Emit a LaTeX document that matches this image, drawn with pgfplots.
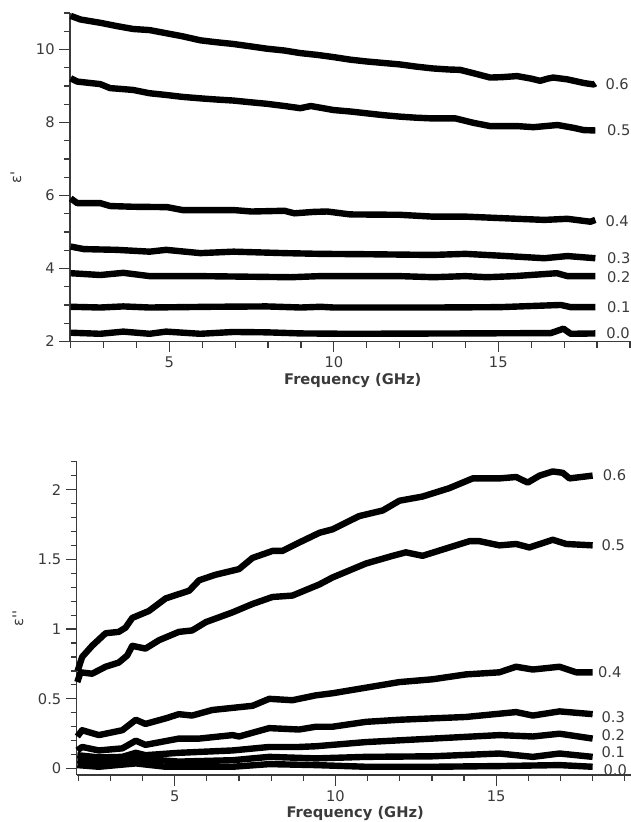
\documentclass[border=0pt]{standalone}
\usepackage{pgfplots}
\pgfplotsset{compat=1.18}
\usepackage{fontspec}
\setmainfont{DejaVu Sans}
\definecolor{txt}{HTML}{3A3A3A}
\pgfplotsset{
  myax/.style={
    scale only axis,
    axis lines*=left,
    axis line style={txt, line width=0.9pt},
    tick align=outside,
    major tick length=8pt,
    minor tick length=4.6pt,
    tick style={txt, line width=0.9pt},
    tick label style={font=\fontsize{11}{13}\selectfont, text=txt},
    /pgf/number format/assume math mode=true,
    xlabel={Frequency (GHz)},
    xlabel style={font=\bfseries\fontsize{11}{13}\selectfont, text=txt, anchor=center, yshift=-29pt},
    ylabel style={font=\fontsize{11}{13}\selectfont, text=txt, at={(axis description cs:0,0.5)}, anchor=center},
    clip=false,
    cycle list={black\\},
    every axis plot/.append style={black, solid, line width=4.8pt, line join=round, no markers},
  },
}
\tikzset{lab/.style={anchor=west, inner sep=0pt, font=\fontsize{11}{13}\selectfont, text=txt}}
\begin{document}
\begin{tikzpicture}
\begin{scope}
\clip (0,0) rectangle (473.25pt,616.5pt);
% ---------------- top: eps' ----------------
\begin{axis}[myax,
  at={(52.5pt,360.4pt)}, anchor=south west,
  width=444.6pt, height=246.4pt,
  xmin=1.98, xmax=20, ymin=2, ymax=11,
  xtick={5,10,15},
  minor xtick={2,3,4,6,7,8,9,11,12,13,14,16,17,18,19},
  ytick={2,4,6,8,10},
  minor ytick={2.5,3,3.5,4.5,5,5.5,6.5,7,7.5,8.5,9,9.5,10.5,11},
  ylabel={ε\textquotesingle},
  ylabel style={yshift=40.5pt},
  xlabel style={at={(axis description cs:0.477,0)}},
]
\addplot coordinates {(2.0,10.92) (2.3,10.82) (2.9,10.73) (3.4,10.64) (3.9,10.56) (4.4,10.53) (4.93,10.44) (5.4,10.36) (5.94,10.25) (6.4,10.2) (6.94,10.15) (7.5,10.08) (7.97,10.02) (8.5,9.97) (8.98,9.9) (9.5,9.85) (9.99,9.79) (10.5,9.72) (11.0,9.67) (11.5,9.63) (12.0,9.59) (12.5,9.53) (13.0,9.48) (13.5,9.45) (13.84,9.44) (14.24,9.35) (14.75,9.23) (15.1,9.24) (15.57,9.27) (16.0,9.2) (16.27,9.14) (16.5,9.2) (16.67,9.23) (17.1,9.18) (17.6,9.08) (17.9,9.04) (17.95,9.07)};
\addplot coordinates {(2.0,9.21) (2.2,9.12) (2.9,9.05) (3.2,8.94) (3.5,8.92) (3.9,8.89) (4.4,8.8) (4.93,8.75) (5.4,8.7) (5.94,8.66) (6.4,8.63) (6.94,8.6) (7.5,8.55) (7.97,8.51) (8.5,8.45) (8.98,8.39) (9.3,8.45) (9.99,8.34) (10.5,8.3) (11.0,8.25) (11.5,8.2) (12.0,8.16) (12.5,8.13) (13.0,8.11) (13.7,8.11) (14.24,7.99) (14.75,7.9) (15.57,7.9) (16.07,7.87) (16.8,7.93) (17.3,7.85) (17.6,7.79) (17.95,7.78)};
\addplot coordinates {(2.0,5.92) (2.2,5.79) (2.9,5.79) (3.2,5.71) (3.9,5.69) (4.93,5.68) (5.4,5.6) (6.95,5.6) (7.5,5.56) (8.5,5.58) (8.8,5.51) (9.4,5.55) (9.8,5.56) (10.5,5.48) (12.0,5.47) (13.0,5.42) (14.0,5.42) (15.05,5.38) (16.4,5.33) (17.1,5.36) (17.8,5.28) (17.95,5.33)};
\addplot coordinates {(2.0,4.6) (2.4,4.53) (3.4,4.51) (4.4,4.46) (4.9,4.51) (5.94,4.42) (6.95,4.46) (8.5,4.42) (9.58,4.4) (11.0,4.39) (13.0,4.37) (14.0,4.4) (15.05,4.35) (16.4,4.28) (17.1,4.34) (17.95,4.28)};
\addplot coordinates {(2.0,3.87) (2.9,3.82) (3.6,3.88) (4.4,3.79) (5.94,3.79) (8.7,3.76) (9.58,3.79) (12.0,3.79) (13.03,3.76) (14.0,3.79) (14.65,3.76) (15.5,3.79) (16.78,3.87) (17.1,3.79) (17.95,3.79)};
\addplot coordinates {(2.0,2.95) (2.9,2.93) (3.6,2.96) (4.4,2.93) (6.3,2.95) (7.96,2.96) (9.0,2.93) (9.6,2.95) (10.0,2.93) (13.0,2.93) (15.05,2.94) (16.9,3.0) (17.2,2.94) (17.95,2.94)};
\addplot coordinates {(2.0,2.24) (2.9,2.21) (3.6,2.27) (4.4,2.21) (4.9,2.27) (5.94,2.21) (6.95,2.26) (7.96,2.25) (9.0,2.22) (10.5,2.21) (14.0,2.22) (16.6,2.23) (16.98,2.35) (17.2,2.21) (17.95,2.22)};
\node[lab] at (axis cs:18.25,9.05) {0.6};
\node[lab] at (axis cs:18.3,7.78) {0.5};
\node[lab] at (axis cs:18.25,5.3) {0.4};
\node[lab] at (axis cs:18.3,4.27) {0.3};
\node[lab] at (axis cs:18.3,3.77) {0.2};
\node[lab] at (axis cs:18.3,2.94) {0.1};
\node[lab] at (axis cs:18.28,2.22) {0.0};
\end{axis}
% ---------------- bottom: eps'' ----------------
\begin{axis}[myax,
  at={(57.5pt,35.25pt)}, anchor=south west,
  width=435.2pt, height=235pt,
  xmin=1.95, xmax=20, ymin=-0.046, ymax=2.2,
  xtick={5,10,15},
  minor xtick={2,3,4,6,7,8,9,11,12,13,14,16,17,18,19},
  ytick={0,0.5,1,1.5,2},
  minor ytick={0.1,0.2,0.3,0.4,0.6,0.7,0.8,0.9,1.1,1.2,1.3,1.4,1.6,1.7,1.8,1.9,2.1,2.2},
  ylabel={ε\textquotesingle\textquotesingle},
  ylabel style={yshift=44pt},
  xlabel style={at={(axis description cs:0.48,0)}},
]
\addplot coordinates {(1.98,0.70) (2.12,0.80) (2.43,0.88) (2.85,0.97) (3.26,0.98) (3.47,1.01) (3.68,1.08) (4.2,1.13) (4.72,1.22) (5.45,1.275) (5.76,1.35) (6.28,1.39) (7.0,1.43) (7.42,1.51) (8.04,1.56) (8.35,1.56) (8.87,1.62) (9.5,1.69) (9.91,1.715) (10.74,1.81) (11.47,1.85) (11.99,1.92) (12.71,1.95) (13.54,2.01) (14.27,2.08) (15.1,2.08) (15.62,2.09) (15.98,2.05) (16.35,2.10) (16.76,2.13) (17.07,2.12) (17.28,2.08) (18.0,2.10)};
\addplot coordinates {(1.97,0.62) (2.07,0.69) (2.43,0.68) (2.85,0.73) (3.26,0.76) (3.52,0.81) (3.68,0.88) (4.09,0.86) (4.51,0.92) (5.13,0.98) (5.54,0.99) (5.97,1.05) (6.8,1.12) (7.42,1.18) (8.04,1.23) (8.66,1.24) (9.5,1.32) (9.91,1.37) (10.95,1.47) (11.78,1.525) (12.19,1.55) (12.71,1.525) (13.54,1.585) (14.17,1.63) (14.48,1.63) (15.1,1.60) (15.62,1.61) (16.03,1.585) (16.76,1.64) (17.18,1.61) (18.0,1.60)};
\addplot coordinates {(1.97,0.23) (2.12,0.275) (2.64,0.24) (3.37,0.275) (3.79,0.35) (4.09,0.32) (4.72,0.36) (5.13,0.39) (5.54,0.38) (6.17,0.42) (7.0,0.44) (7.42,0.45) (7.94,0.50) (8.66,0.49) (9.39,0.525) (9.91,0.54) (10.43,0.56) (10.95,0.58) (11.99,0.62) (13.02,0.64) (14.06,0.675) (15.1,0.69) (15.62,0.73) (16.14,0.71) (16.97,0.73) (17.49,0.69) (18.0,0.69)};
\addplot coordinates {(1.97,0.13) (2.12,0.155) (2.64,0.13) (3.37,0.145) (3.79,0.20) (4.09,0.17) (5.13,0.215) (5.76,0.215) (6.8,0.24) (7.0,0.23) (7.94,0.29) (8.87,0.28) (9.39,0.30) (9.91,0.30) (10.95,0.335) (11.99,0.35) (13.02,0.36) (14.06,0.37) (15.62,0.405) (16.14,0.38) (16.97,0.41) (18.0,0.39)};
\addplot coordinates {(1.97,0.096) (2.64,0.08) (3.37,0.084) (3.79,0.113) (4.09,0.096) (5.13,0.113) (6.8,0.13) (7.94,0.155) (8.87,0.155) (9.39,0.16) (10.95,0.19) (13.02,0.215) (15.1,0.24) (16.14,0.23) (16.97,0.25) (18.0,0.215)};
\addplot coordinates {(1.97,0.06) (2.64,0.05) (3.79,0.073) (5.13,0.05) (6.8,0.06) (7.94,0.084) (9.39,0.073) (10.95,0.084) (13.02,0.088) (15.1,0.108) (16.14,0.084) (16.97,0.108) (18.0,0.084)};
\addplot coordinates {(1.97,0.025) (2.64,0.013) (3.79,0.037) (4.72,0.013) (6.8,0.013) (7.94,0.032) (9.39,0.025) (10.95,0.013) (13.02,0.013) (15.1,0.018) (16.97,0.025) (18.0,0.013)};
\node[lab] at (axis cs:18.31,2.10) {0.6};
\node[lab] at (axis cs:18.27,1.60) {0.5};
\node[lab] at (axis cs:18.16,0.69) {0.4};
\node[lab] at (axis cs:18.27,0.37) {0.3};
\node[lab] at (axis cs:18.27,0.24) {0.2};
\node[lab] at (axis cs:18.27,0.12) {0.1};
\node[lab] at (axis cs:18.33,-0.01) {0.0};
\end{axis}
\end{scope}
\pgfresetboundingbox
\useasboundingbox (0,0) rectangle (473.25pt,616.5pt);
\end{tikzpicture}
\end{document}
